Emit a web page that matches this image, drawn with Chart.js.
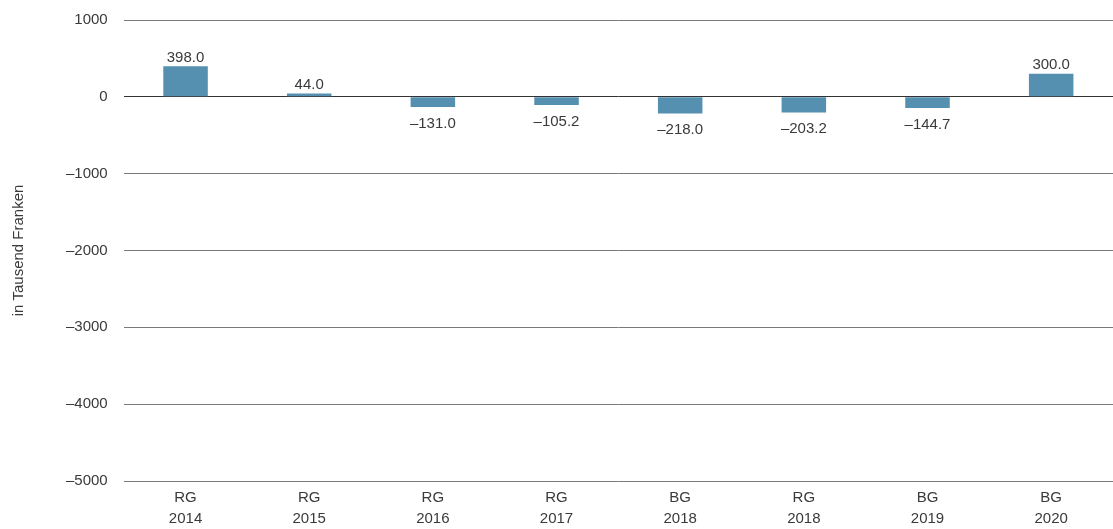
<!DOCTYPE html>
<html>
<head>
<meta charset="utf-8">
<script src="https://cdn.jsdelivr.net/npm/chart.js@4.4.0/dist/chart.umd.min.js"></script>
<style>
  html, body { margin: 0; padding: 0; background: #fff; }
  #wrap { width: 1113px; height: 529px; }
</style>
</head>
<body>
<div id="wrap"><canvas id="chart"></canvas></div>
<script>
const labelTypes = ["RG", "RG", "RG", "RG", "BG", "RG", "BG", "BG"];
const labelYears = ["2014", "2015", "2016", "2017", "2018", "2018", "2019", "2020"];
const values = [398.0, 44.0, -131.0, -105.2, -218.0, -203.2, -144.7, 300.0];
const yTicks = [1000, 0, -1000, -2000, -3000, -4000, -5000];

const FONT = "'Liberation Sans Narrow', 'Liberation Sans', Arial, sans-serif";
const TEXT = "#3a3a3a";

// format numbers with en dash as minus sign
function fmt(v, digits) {
  const s = Math.abs(v).toFixed(digits);
  return v < 0 ? "\u2013" + s : s;
}

const valueLabels = {
  id: "valueLabels",
  afterDatasetsDraw(chart) {
    const ctx = chart.ctx;
    const meta = chart.getDatasetMeta(0);
    ctx.save();
    ctx.font = "15px " + FONT;
    ctx.fillStyle = TEXT;
    ctx.textAlign = "center";
    meta.data.forEach((bar, i) => {
      const v = values[i];
      if (v >= 0) {
        ctx.textBaseline = "bottom";
        ctx.fillText(fmt(v, 1), bar.x, bar.y - 1);
      } else {
        ctx.textBaseline = "top";
        ctx.fillText(fmt(v, 1), bar.x, bar.y + 9);
      }
    });
    ctx.restore();
  }
};

new Chart(document.getElementById("chart"), {
  type: "bar",
  data: {
    labels: labelTypes.map((t, i) => [t, labelYears[i]]),
    datasets: [{
      data: values,
      backgroundColor: "#5590b0",
      borderWidth: 0,
      barPercentage: 0.36,
      categoryPercentage: 1
    }]
  },
  options: {
    responsive: true,
    maintainAspectRatio: false,
    animation: false,
    layout: { padding: { top: 20, right: 0, bottom: 0, left: 10 } },
    plugins: {
      legend: { display: false },
      tooltip: { enabled: false }
    },
    scales: {
      x: {
        grid: { display: false, drawTicks: false },
        border: { display: false },
        afterFit(axis) { axis.height = 48; },
        ticks: {
          color: TEXT,
          font: { family: FONT, size: 15, lineHeight: 1.4 },
          padding: 6,
          maxRotation: 0
        }
      },
      y: {
        min: -5000,
        max: 1000,
        afterBuildTicks(axis) {
          axis.ticks = yTicks.map(v => ({ value: v }));
        },
        afterFit(axis) {
          axis.paddingTop = 0;
          axis.paddingBottom = 0;
        },
        grid: {
          drawTicks: false,
          color: ctx => ctx.tick && ctx.tick.value === 0 ? "#333" : "#7a7a7a",
          lineWidth: 1
        },
        border: { display: false },
        ticks: {
          color: TEXT,
          font: { family: FONT, size: 15 },
          padding: 16,
          callback: v => fmt(v, 0)
        },
        title: {
          display: true,
          text: "in Tausend Franken",
          color: TEXT,
          font: { family: FONT, size: 15 },
          padding: { top: 0, bottom: 22 }
        }
      }
    }
  },
  plugins: [valueLabels]
});
</script>
</body>
</html>
